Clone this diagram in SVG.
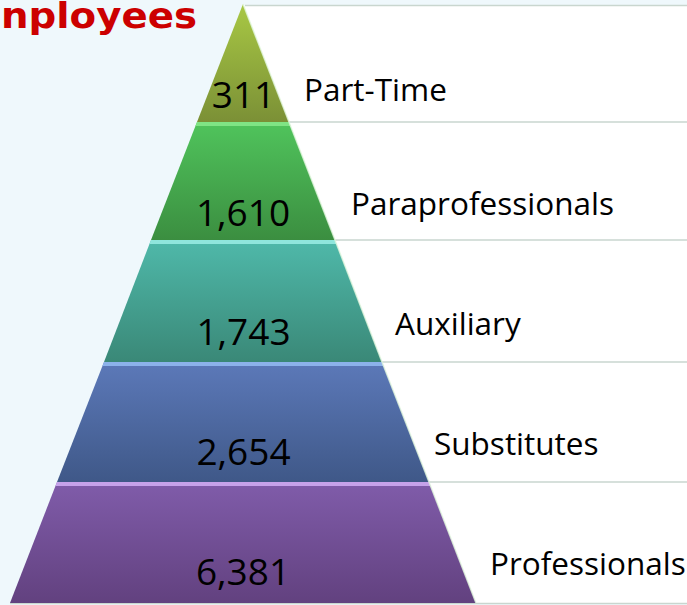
<svg xmlns="http://www.w3.org/2000/svg" width="687" height="605" viewBox="0 0 687 605">
<defs>
<linearGradient id="g1" x1="0" y1="0" x2="0" y2="1"><stop offset="0" stop-color="#a8c844"/><stop offset="1" stop-color="#7b9036"/></linearGradient>
<linearGradient id="g2" x1="0" y1="0" x2="0" y2="1"><stop offset="0" stop-color="#50c45c"/><stop offset="1" stop-color="#3b8e40"/></linearGradient>
<linearGradient id="g3" x1="0" y1="0" x2="0" y2="1"><stop offset="0" stop-color="#4fb9aa"/><stop offset="1" stop-color="#3a8877"/></linearGradient>
<linearGradient id="g4" x1="0" y1="0" x2="0" y2="1"><stop offset="0" stop-color="#5c79b9"/><stop offset="1" stop-color="#3f5888"/></linearGradient>
<linearGradient id="g5" x1="0" y1="0" x2="0" y2="1"><stop offset="0" stop-color="#805caa"/><stop offset="1" stop-color="#62417f"/></linearGradient>
</defs>
<style>
.panel{fill:#ffffff}
.num{font-family:"Open Sans","Noto Sans",sans-serif;font-size:37px;fill:#000;text-anchor:middle}
.lbl{font-family:"Open Sans","Noto Sans",sans-serif;font-size:31.5px;fill:#000}
.sep{stroke:#c9d6cf;stroke-width:1.5;fill:none}
.edge{stroke:#e4f8e0;stroke-width:1.5;fill:none;opacity:0.8}
</style>
<rect x="0" y="0" width="687" height="605" fill="#eff8fc"/>
<text x="1" y="28" font-family="DejaVu Sans Condensed, DejaVu Sans, sans-serif" font-weight="bold" font-size="36" fill="#cc0000" textLength="196" lengthAdjust="spacingAndGlyphs">nployees</text>

<g id="panels">
<rect class="panel" x="243" y="5" width="444" height="117"/>
<rect class="panel" x="243" y="122" width="444" height="118"/>
<rect class="panel" x="243" y="240" width="444" height="122"/>
<rect class="panel" x="243" y="362" width="444" height="120"/>
<rect class="panel" x="243" y="482" width="444" height="121"/>
</g>

<g id="connectors">
<line class="sep" x1="245" y1="5.5" x2="687" y2="5.5"/>
<line class="sep" x1="289" y1="122" x2="687" y2="122"/>
<line class="sep" x1="335" y1="240" x2="687" y2="240"/>
<line class="sep" x1="382" y1="362" x2="687" y2="362"/>
<line class="sep" x1="429" y1="482" x2="687" y2="482" stroke="#c8c8d8"/>
<line class="sep" x1="10" y1="603.5" x2="687" y2="603.5" stroke="#c4cadc"/>
</g>

<g id="part-time">
<polygon points="243,4 289,122 197,122" fill="url(#g1)"/>
<line class="edge" x1="243" y1="4" x2="289" y2="122"/>
<text class="num" x="243.5" y="108">311</text>
<text class="lbl" x="304" y="101">Part-Time</text>
</g>

<g id="paraprofessionals">
<polygon points="197,122 289,122 335,240 151,240" fill="url(#g2)"/>
<polygon points="197,122 289,122 290.6,126 195.4,126" fill="#7fe484"/>
<line class="edge" x1="289" y1="122" x2="335" y2="240"/>
<text class="num" x="243" y="226">1,610</text>
<text class="lbl" x="351" y="215">Paraprofessionals</text>
</g>

<g id="auxiliary">
<polygon points="151,240 335,240 382,362 104,362" fill="url(#g3)"/>
<polygon points="151,240 335,240 336.6,244 149.4,244" fill="#8fe6dc"/>
<line class="edge" x1="335" y1="240" x2="382" y2="362"/>
<text class="num" x="243.5" y="345">1,743</text>
<text class="lbl" x="395" y="335">Auxiliary</text>
</g>

<g id="substitutes">
<polygon points="104,362 382,362 429,482 57,482" fill="url(#g4)"/>
<polygon points="104,362 382,362 383.6,366 102.4,366" fill="#8cb2ea"/>
<line class="edge" x1="382" y1="362" x2="429" y2="482"/>
<text class="num" x="243.5" y="465">2,654</text>
<text class="lbl" x="434" y="455">Substitutes</text>
</g>

<g id="professionals">
<polygon points="57,482 429,482 476,603 10,603" fill="url(#g5)"/>
<polygon points="57,482 429,482 430.6,486 55.4,486" fill="#c6a2ea"/>
<line class="edge" x1="429" y1="482" x2="476" y2="603" stroke="#d8d0f0"/>
<text class="num" x="243" y="585">6,381</text>
<text class="lbl" x="490" y="575">Professionals</text>
</g>
</svg>
